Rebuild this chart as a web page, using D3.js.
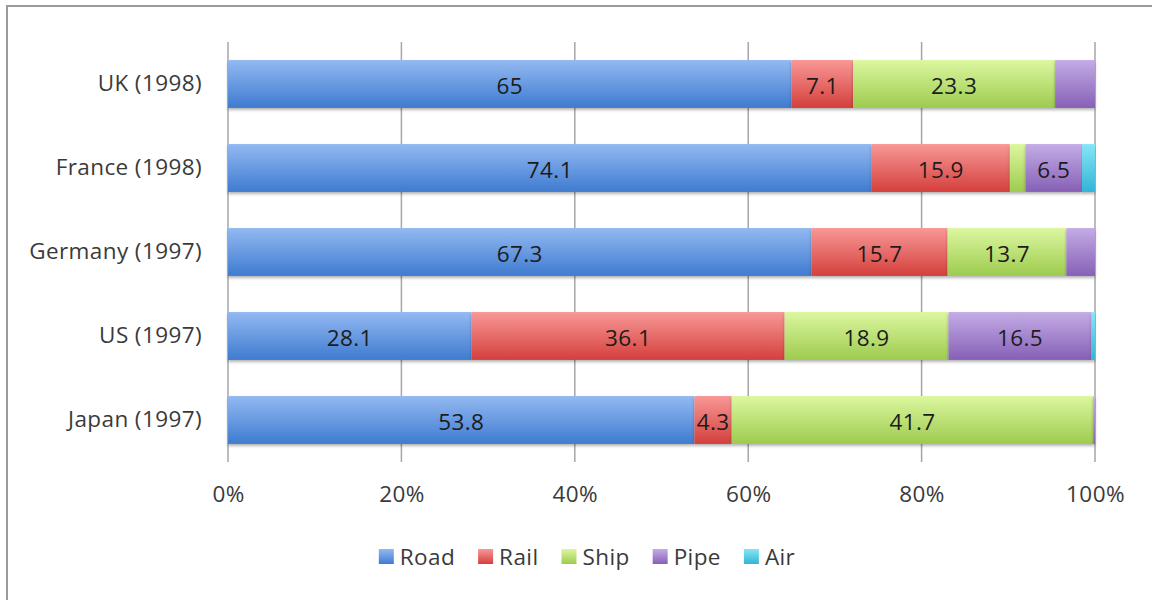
<!DOCTYPE html>
<html>
<head>
<meta charset="utf-8">
<script src="https://cdn.jsdelivr.net/npm/d3@7"></script>
<style>
  body { margin: 0; background: #fff; }
  text { font-family: "Open Sans", sans-serif; letter-spacing: 0.4px; }
</style>
</head>
<body>
<script>
// data (percent of freight)
var countries = ["UK (1998)", "France (1998)", "Germany (1997)", "US (1997)", "Japan (1997)"];
var modes = ["Road", "Rail", "Ship", "Pipe", "Air"];
var road = [65, 74.1, 67.3, 28.1, 53.8];
var rail = [7.1, 15.9, 15.7, 36.1, 4.3];
var ship = [23.3, 1.8, 13.7, 18.9, 41.7];
var pipe = [4.6, 6.5, 3.3, 16.5, 0.2];
var air = [0, 1.5, 0, 0.4, 0];
// segments that carry no value label in the original
var unlabelled = [["UK (1998)", "Pipe"], ["France (1998)", "Ship"], ["France (1998)", "Air"],
                  ["Germany (1997)", "Pipe"], ["US (1997)", "Air"], ["Japan (1997)", "Pipe"]];
var xTicks = [0, 0.2, 0.4, 0.6, 0.8, 1];

var colors = {
  Road: ["#93b9f2", "#3f7bd0"],
  Rail: ["#f89896", "#d43f3c"],
  Ship: ["#dcf7a0", "#9dcb4e"],
  Pipe: ["#c4ace6", "#8660b6"],
  Air:  ["#86e6f6", "#33b4d6"]
};

var rows = countries.map(function(c, i) {
  return { country: c, Road: road[i], Rail: rail[i], Ship: ship[i], Pipe: pipe[i], Air: air[i] };
});

var W = 1152, H = 600, fs = 22.5;
var margin = { top: 42, right: 57, bottom: 138, left: 228 },
    width = W - margin.left - margin.right,
    height = H - margin.top - margin.bottom;

var root = d3.select("body").append("svg").attr("width", W).attr("height", H);

// outer frame
root.append("rect").attr("x", 7).attr("y", 6).attr("width", W + 10).attr("height", H + 10)
  .attr("fill", "none").attr("stroke", "#9a9a9a").attr("stroke-width", 2);

var defs = root.append("defs");
modes.forEach(function(m) {
  var g = defs.append("linearGradient").attr("id", "grad-" + m)
    .attr("x1", 0).attr("y1", 0).attr("x2", 0).attr("y2", 1);
  g.append("stop").attr("offset", "0%").attr("stop-color", colors[m][0]);
  g.append("stop").attr("offset", "100%").attr("stop-color", colors[m][1]);
});
defs.append("filter").attr("id", "shadow").attr("x", "-5%").attr("y", "-20%").attr("width", "110%").attr("height", "150%")
  .append("feDropShadow").attr("dx", 0).attr("dy", 2).attr("stdDeviation", 1.5)
  .attr("flood-color", "#000").attr("flood-opacity", 0.3);

var svg = root.append("g").attr("transform", "translate(" + margin.left + "," + margin.top + ")");

var xScale = d3.scaleLinear().domain([0, 1]).range([0, width]);
var yScale = d3.scaleBand().domain(countries).range([0, height]).paddingInner(0.43).paddingOuter(0.215);

// vertical gridlines
svg.selectAll(".grid").data(xTicks).enter().append("line")
  .attr("x1", function(d) { return xScale(d); }).attr("x2", function(d) { return xScale(d); })
  .attr("y1", 0).attr("y2", height)
  .attr("stroke", "#a6a6a6").attr("stroke-width", 1.5);

var stack = d3.stack().keys(modes).offset(d3.stackOffsetExpand);
var series = stack(rows);

var layers = svg.selectAll(".layer").data(series).enter().append("g")
  .attr("fill", function(d) { return "url(#grad-" + d.key + ")"; })
  .attr("filter", "url(#shadow)");

layers.selectAll("rect").data(function(d) { return d; }).enter().append("rect")
  .attr("x", function(d) { return xScale(d[0]); })
  .attr("width", function(d) { return Math.max(0, xScale(d[1]) - xScale(d[0])); })
  .attr("y", function(d) { return yScale(d.data.country); })
  .attr("height", yScale.bandwidth());

// value labels
var hidden = {};
unlabelled.forEach(function(p) { hidden[p[0] + "|" + p[1]] = true; });
series.forEach(function(s) {
  svg.selectAll(".lbl-" + s.key).data(s.filter(function(d) {
      return d.data[s.key] > 0 && !hidden[d.data.country + "|" + s.key];
    })).enter().append("text")
    .attr("x", function(d) { return xScale((d[0] + d[1]) / 2); })
    .attr("y", function(d) { return yScale(d.data.country) + yScale.bandwidth() / 2 + 2; })
    .attr("dy", "0.35em")
    .attr("text-anchor", "middle")
    .attr("font-size", fs)
    .attr("fill", "#1c1c1c")
    .text(function(d) { return d.data[s.key]; });
});

// category axis
var yAxis = svg.append("g").call(d3.axisLeft(yScale).tickSize(0).tickPadding(26));
yAxis.select(".domain").remove();
yAxis.selectAll("text").attr("font-size", fs).attr("fill", "#3a3a3a").attr("font-family", "'Open Sans', sans-serif");

// percent axis
var xAxis = svg.append("g").attr("transform", "translate(0," + height + ")")
  .call(d3.axisBottom(xScale).tickValues(xTicks).tickFormat(d3.format(".0%")).tickSize(0).tickPadding(24));
xAxis.select(".domain").remove();
xAxis.selectAll("text").attr("font-size", fs).attr("fill", "#3a3a3a").attr("font-family", "'Open Sans', sans-serif");

// legend
var legend = root.append("g");
var lx = 0;
modes.forEach(function(m) {
  var item = legend.append("g").attr("transform", "translate(" + lx + ",0)");
  item.append("rect").attr("x", 0).attr("y", -16).attr("width", 15).attr("height", 15)
    .attr("fill", "url(#grad-" + m + ")");
  var t = item.append("text").attr("x", 21).attr("y", 0).attr("font-size", fs).attr("fill", "#3a3a3a").text(m);
  lx += 21 + t.node().getComputedTextLength() + 23;
});
lx -= 23;
legend.attr("transform", "translate(" + (587 - lx / 2) + ",565)");
</script>
</body>
</html>
